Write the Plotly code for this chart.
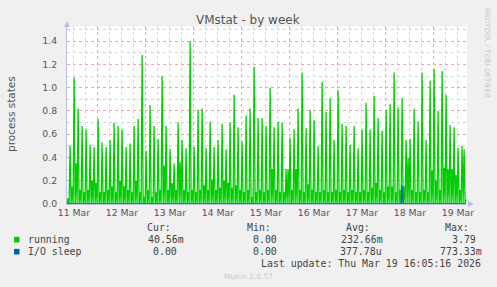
import plotly.graph_objects as go
import pandas as pd

# ---- data ----
# spike heights, one every 2 hours
peaks = [0.50, 1.09, 0.82, 0.67, 0.64, 0.51, 0.49, 0.73, 0.53, 0.49,
         0.55, 0.70, 0.67, 0.64, 0.49, 0.52, 0.67, 0.73, 1.28, 0.46,
         0.85, 0.67, 0.56, 1.10, 0.67, 0.47, 0.35, 0.70, 0.55, 0.48,
         1.40, 0.49, 0.81, 0.82, 0.48, 0.71, 0.49, 0.55, 0.69, 0.47,
         0.70, 0.94, 0.66, 0.54, 0.76, 0.82, 1.18, 0.74, 0.74, 0.67,
         1.00, 0.66, 0.71, 0.70, 0.30, 0.57, 0.64, 0.82, 1.13, 0.65,
         0.81, 0.72, 0.50, 1.05, 0.79, 0.91, 0.55, 0.98, 0.69, 0.67,
         0.51, 0.67, 0.48, 0.64, 0.87, 0.64, 0.93, 0.74, 0.63, 0.81,
         0.86, 1.13, 0.83, 0.91, 0.55, 0.56, 0.82, 0.71, 1.13, 0.55,
         1.06, 1.16, 0.80, 1.14, 0.94, 0.68, 0.66, 0.48, 0.50, 0.04]
# small values between spikes
mids = [0.05, 0.15, 0.35, 0.12, 0.10, 0.12, 0.20, 0.18, 0.10, 0.10,
        0.12, 0.15, 0.10, 0.20, 0.15, 0.12, 0.10, 0.20, 0.10, 0.06,
        0.12, 0.06, 0.10, 0.12, 0.33, 0.12, 0.18, 0.12, 0.36, 0.12,
        0.10, 0.12, 0.10, 0.12, 0.16, 0.12, 0.21, 0.12, 0.14, 0.20,
        0.18, 0.14, 0.16, 0.12, 0.10, 0.12, 0.06, 0.10, 0.12, 0.10,
        0.12, 0.30, 0.12, 0.10, 0.10, 0.30, 0.12, 0.30, 0.12, 0.10,
        0.17, 0.12, 0.10, 0.10, 0.12, 0.10, 0.10, 0.12, 0.10, 0.12,
        0.10, 0.12, 0.10, 0.10, 0.12, 0.10, 0.14, 0.18, 0.12, 0.10,
        0.15, 0.15, 0.10, 0.12, 0.15, 0.40, 0.12, 0.10, 0.10, 0.12,
        0.10, 0.29, 0.20, 0.12, 0.31, 0.30, 0.30, 0.25, 0.12, 0.47]
io_sleep_index = [335]
io_sleep_value = [0.16]

start_time = "2026-03-11 08:35"
n_samples = 400

times = pd.date_range(start_time, periods=n_samples, freq="30min")
running = []
for k in range(n_samples):
    if k % 4 == 3:
        running.append(peaks[k // 4])
    elif k % 4 == 1:
        running.append(mids[k // 4])
    else:
        running.append(0.0)
io_sleep = [0.0] * n_samples
for i, v in zip(io_sleep_index, io_sleep_value):
    io_sleep[i] = v

legend_rows = [
    ("running", "#00CC00", ["40.56m", "0.00", "232.66m", "3.79"], [185, 278, 384, 477]),
    ("I/O sleep", "#0066B3", ["0.00", "0.00", "377.78u", "773.33m"], [178, 278, 383, 483]),
]
headers = ["Cur:", "Min:", "Avg:", "Max:"]
header_right = [172, 272, 371, 470]

# ---- layout geometry ----
W, H = 497, 287
L, R, T, B = 67, 30, 26, 83
PW, PH = W - L - R, H - T - B

def px(x):
    return (x - L) / PW

def py(y):
    return (H - B - y) / PH

fig = go.Figure()
fig.add_trace(go.Scatter(x=times, y=running, mode="lines", name="running",
                         line=dict(color="#00CC00", width=1.3), hoverinfo="skip"))
fig.add_trace(go.Scatter(x=times, y=io_sleep, mode="lines", name="I/O sleep",
                         line=dict(color="#0066B3", width=1.3), hoverinfo="skip"))

tick_font = dict(family="DejaVu Sans", size=9.3, color="#555555")
axis_col = "#B8C0E4"
fig.update_layout(
    width=W, height=H,
    margin=dict(l=L, r=R, t=T, b=B, pad=0),
    paper_bgcolor="#F0F0F0", plot_bgcolor="#FFFFFF",
    showlegend=False,
    xaxis=dict(
        type="date", range=["2026-03-11 08:32", "2026-03-19 16:32"],
        tick0="2026-03-11", dtick=86400000, tickformat="%d %b",
        ticklabelmode="period", ticks="", tickfont=tick_font,
        showgrid=True, gridcolor="#EBA8A8", griddash="dot", gridwidth=1,
        minor=dict(dtick=21600000, tick0="2026-03-11", showgrid=True,
                   gridcolor="#D4D4D4", griddash="dot", gridwidth=1),
        showline=True, linecolor=axis_col, linewidth=1, layer="above traces",
        zeroline=False, fixedrange=True,
    ),
    yaxis=dict(
        range=[0, 1.53], dtick=0.2, tick0=0, tickformat=".1f",
        tickfont=tick_font, ticks="", ticklabelstandoff=7,
        showgrid=True, gridcolor="#EBA8A8", griddash="dot", gridwidth=1,
        minor=dict(dtick=0.1, tick0=0, showgrid=True,
                   gridcolor="#D4D4D4", griddash="dot", gridwidth=1),
        showline=True, linecolor=axis_col, linewidth=1, layer="above traces",
        zeroline=False, fixedrange=True,
    ),
)

ann = []
def text(x, y, s, anchor="left", size=9.9, color="#444444", family="DejaVu Sans Mono", angle=0):
    ann.append(dict(x=px(x), y=py(y), xref="paper", yref="paper", text=s,
                    showarrow=False, xanchor=anchor, yanchor="middle",
                    textangle=angle, borderpad=0,
                    font=dict(family=family, size=size, color=color)))

text(248, 19.5, "VMstat - by week", "center", 12, "#555555", "DejaVu Sans")
text(11, 114, "process states", "center", 10.5, "#555555", "DejaVu Sans", -90)
text(487, 53, "RRDTOOL / TOBI OETIKER", "center", 7, "#C8C8C8", "DejaVu Sans", 90)
for h, xr in zip(headers, header_right):
    text(xr, 227.3, h, "right")
shapes = []
for (name, col, vals, xrs), yy in zip(legend_rows, [239.7, 251.7]):
    shapes.append(dict(type="rect", xref="paper", yref="paper",
                       x0=px(14), x1=px(19.5), y0=py(yy - 2.8), y1=py(yy + 2.8),
                       fillcolor=col, line=dict(width=0)))
    text(26.7, yy, name, "left")
    for v, xr in zip(vals, xrs):
        text(xr, yy, v, "right")
text(482, 263.3, "Last update: Thu Mar 19 16:05:16 2026", "right")
text(248, 276.3, "Munin 2.0.57", "center", 7.5, "#C8C8C8", "DejaVu Sans")

# axis arrows
shapes.append(dict(type="path", xref="paper", yref="paper",
                   path=f"M {px(64)} {py(27)} L {px(70)} {py(27)} L {px(67)} {py(21)} Z",
                   fillcolor=axis_col, line=dict(width=0)))
shapes.append(dict(type="path", xref="paper", yref="paper",
                   path=f"M {px(468)} {py(201)} L {px(468)} {py(207)} L {px(474)} {py(204)} Z",
                   fillcolor=axis_col, line=dict(width=0)))

fig.update_layout(annotations=ann, shapes=shapes)
fig.write_html("out.html")
